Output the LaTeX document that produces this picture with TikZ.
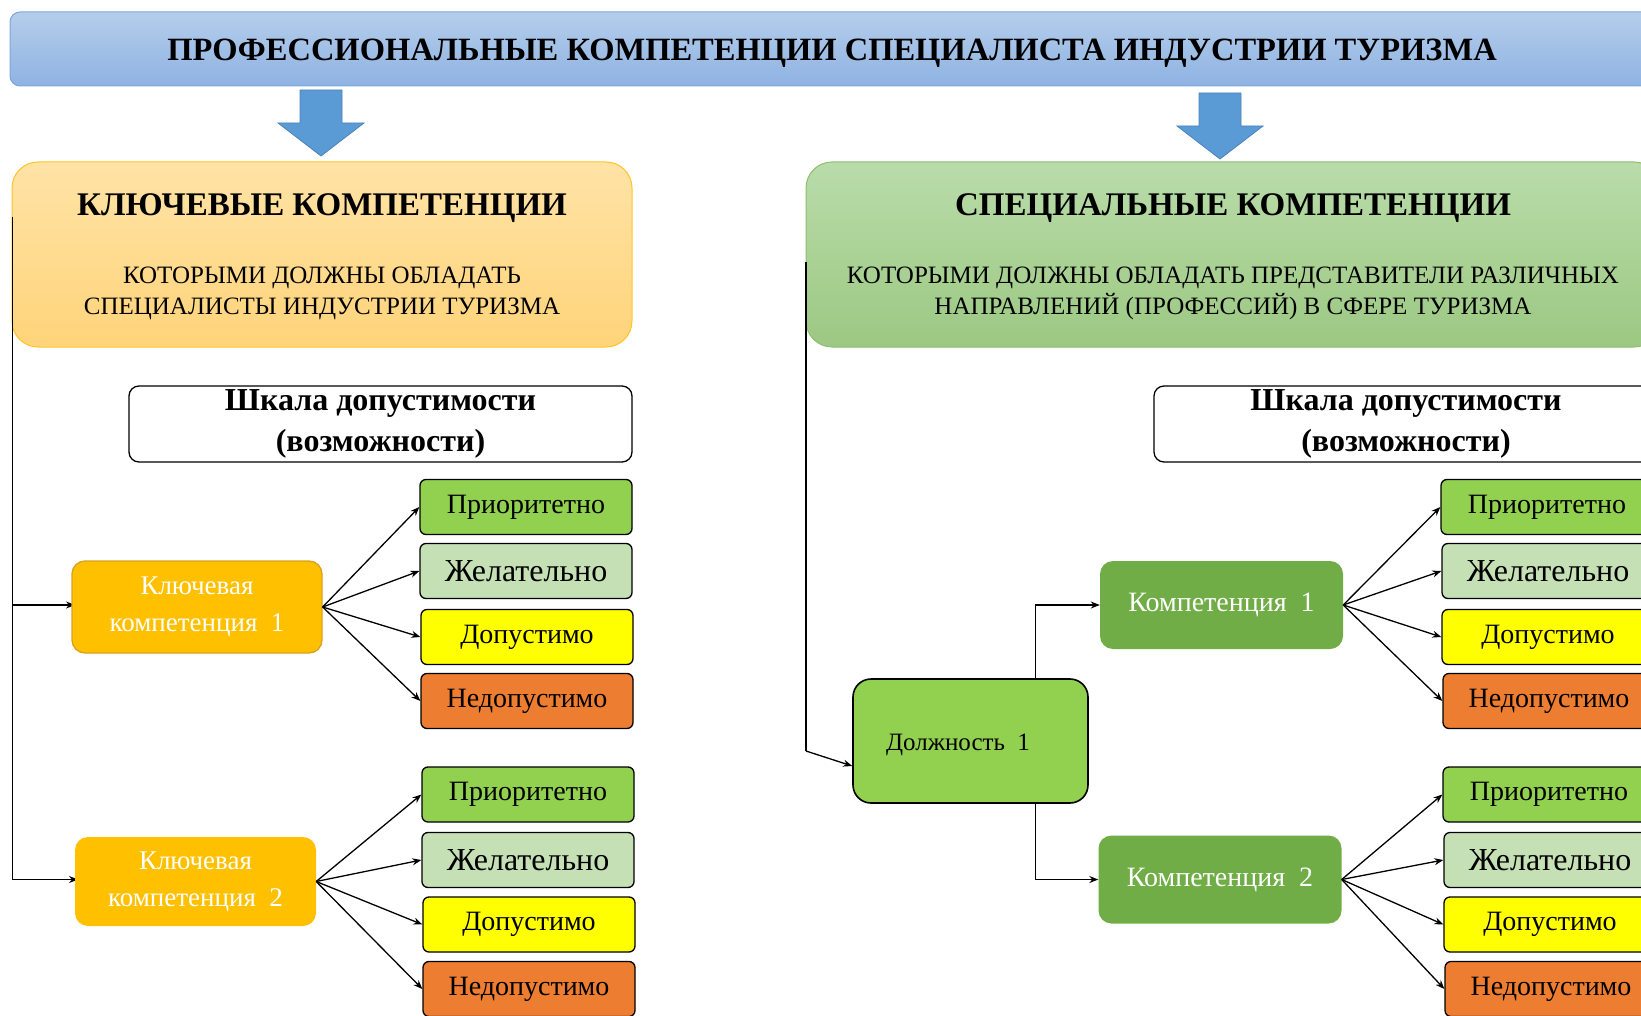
\documentclass[tikz,border=0pt]{standalone}
\usepackage{fontspec}
\setmainfont{Liberation Serif}
\usetikzlibrary{arrows.meta}

\definecolor{BannerTop}{HTML}{B5CDEB}
\definecolor{BannerBot}{HTML}{8EB3E2}
\definecolor{BannerLine}{HTML}{7EA6DA}
\definecolor{ArrowBlue}{HTML}{5B9BD5}
\definecolor{ArrowLine}{HTML}{4A84BC}
\definecolor{KeyTop}{HTML}{FFE3A6}
\definecolor{KeyBot}{HTML}{FFD47A}
\definecolor{KeyLine}{HTML}{FFC423}
\definecolor{SpecTop}{HTML}{B9DCAA}
\definecolor{SpecBot}{HTML}{9CC882}
\definecolor{SpecLine}{HTML}{8DBF72}
\definecolor{Prio}{HTML}{92D050}
\definecolor{Wish}{HTML}{C5E0B4}
\definecolor{Allow}{HTML}{FFFF00}
\definecolor{Deny}{HTML}{ED7D31}
\definecolor{KeyComp}{HTML}{FFC000}
\definecolor{KeyCompLine}{HTML}{D9A21B}
\definecolor{Post}{HTML}{92D050}
\definecolor{Comp}{HTML}{70AD47}

\tikzset{
  banner/.style={draw=BannerLine, line width=1pt, top color=BannerTop, bottom color=BannerBot,
    rounded corners=10pt, minimum width=1650pt, minimum height=74pt, inner sep=0pt},
  bannertext/.style={font=\fontsize{32.5}{38}\selectfont\bfseries},
  bigbox/.style={line width=1pt, rounded corners=26pt, minimum height=185pt, inner sep=0pt},
  boxtitle/.style={font=\fontsize{33}{38}\selectfont\bfseries},
  boxsub/.style={align=center, font=\fontsize{25}{31}\selectfont},
  scalehead/.style={draw=black, line width=1.3pt, fill=white, rounded corners=10pt, minimum height=76pt,
    inner sep=0pt, align=center, font=\fontsize{32}{41}\selectfont\bfseries},
  level/.style={draw=black, line width=1.3pt, rounded corners=6pt, minimum width=212pt,
    minimum height=55pt, inner sep=0pt, font=\fontsize{28}{30}\selectfont},
  prio/.style={level, fill=Prio},
  wish/.style={level, fill=Wish, font=\fontsize{32}{34}\selectfont},
  allow/.style={level, fill=Allow},
  deny/.style={level, fill=Deny},
  keycomp/.style={fill=KeyComp, rounded corners=13pt, inner sep=0pt, align=center, text=white,
    font=\fontsize{27}{37}\selectfont},
  comp/.style={fill=Comp, rounded corners=13pt, minimum width=243pt, minimum height=88pt,
    inner sep=0pt, text=white, font=\fontsize{28}{30}\selectfont},
  arr/.style={-{Stealth[length=9pt,width=7pt]}, line width=1.3pt},
}

\begin{document}
\begin{tikzpicture}[x=1pt,y=-1pt]
\useasboundingbox (0,0) rectangle (1641,1016);
\clip (0,0) rectangle (1641,1016);

 %%%%%%%%%% Banner %%%%%%%%%%
 \node[banner] (top) at (835,49) {};
 \node[bannertext] (toptext) at (832,53) {ПРОФЕССИОНАЛЬНЫЕ КОМПЕТЕНЦИИ СПЕЦИАЛИСТА ИНДУСТРИИ ТУРИЗМА};

 %%%%%%%%%% Blue arrows %%%%%%%%%%
 \foreach \cx/\ty in {321/90, 1220/93}
   \filldraw [fill=ArrowBlue, draw=ArrowLine, line width=0.8pt]
     (\cx-21,\ty) -- (\cx+21,\ty) -- (\cx+21,\ty+33) -- (\cx+43,\ty+33) -- (\cx,\ty+66)
     -- (\cx-43,\ty+33) -- (\cx-21,\ty+33) -- cycle ;

 %%%%%%%%%% Left column %%%%%%%%%%
 \node[bigbox, draw=KeyLine, top color=KeyTop, bottom color=KeyBot, minimum width=620pt] (key) at (322,254.5) {};
 \node[boxtitle] (keytitle) at (322,208) {КЛЮЧЕВЫЕ КОМПЕТЕНЦИИ};
 \node[boxsub] (keysub) at (322,293) {КОТОРЫМИ ДОЛЖНЫ ОБЛАДАТЬ\\СПЕЦИАЛИСТЫ ИНДУСТРИИ ТУРИЗМА};

 \coordinate (ktop) at (12.5,217);
 \draw [arr] (ktop) |- (75,605) coordinate (kin1);
 \draw [arr] (ktop) |- (78,879.5) coordinate (kin2);

 \node[scalehead, minimum width=503pt] (keyscale) at (380.5,424) {Шкала допустимости\\(возможности)};

 \node[keycomp, draw=KeyCompLine, line width=1.3pt, minimum width=250pt, minimum height=92pt] (kc1) at (197,607) {Ключевая\\компетенция~~1};
 \node[keycomp, minimum width=241pt, minimum height=89pt] (kc2) at (195.5,881.5) {Ключевая\\компетенция~~2};

 \node[prio]  (kp1) at (526,507) {Приоритетно};
 \node[wish]  (kw1) at (526,571) {Желательно};
 \node[allow] (ka1) at (527,637) {Допустимо};
 \node[deny]  (kd1) at (527,701) {Недопустимо};

 \node[prio]  (kp2) at (528,794.5) {Приоритетно};
 \node[wish]  (kw2) at (528,860) {Желательно};
 \node[allow] (ka2) at (529,924.5) {Допустимо};
 \node[deny]  (kd2) at (529,989) {Недопустимо};

 \foreach \n in {kp1,kw1,ka1,kd1}
   \draw [arr] (kc1.east) -- (\n.west) ;
 \foreach \n in {kp2,kw2,ka2,kd2}
   \draw [arr] (kc2.east) -- (\n.west) ;

 %%%%%%%%%% Right column %%%%%%%%%%
 \node[bigbox, draw=SpecLine, top color=SpecTop, bottom color=SpecBot, minimum width=854pt] (spec) at (1233,254.5) {};
 \node[boxtitle] (spectitle) at (1233,208) {СПЕЦИАЛЬНЫЕ КОМПЕТЕНЦИИ};
 \node[boxsub] (specsub) at (1233,293) {КОТОРЫМИ ДОЛЖНЫ ОБЛАДАТЬ ПРЕДСТАВИТЕЛИ РАЗЛИЧНЫХ\\НАПРАВЛЕНИЙ (ПРОФЕССИЙ) В СФЕРЕ ТУРИЗМА};

 \coordinate (stop) at (806,262);
 \coordinate (sbend) at (806,751);

 \node[scalehead, minimum width=504pt] (specscale) at (1406,424) {Шкала допустимости\\(возможности)};

 \node[draw=black, line width=1.6pt, fill=Post, rounded corners=18pt, minimum width=235pt,
   minimum height=124pt] (post) at (970.5,741) {};
 \node[font=\fontsize{25}{28}\selectfont] (posttext) at (958,745) {Должность~~1};

 \node[comp] (c1) at (1221.5,605) {Компетенция~~1};
 \node[comp] (c2) at (1220,879.5) {Компетенция~~2};

 \draw [line width=1.3pt] (stop) -- (sbend) ;
 \draw [arr] (sbend) -- ([yshift=-25pt]post.west) ;
 \draw [arr] ([xshift=65pt]post.north) |- (c1.west) ;
 \draw [arr] ([xshift=65pt]post.south) |- (c2.west) ;

 \node[prio]  (sp1) at (1547,507) {Приоритетно};
 \node[wish]  (sw1) at (1548,571) {Желательно};
 \node[allow] (sa1) at (1548,637) {Допустимо};
 \node[deny]  (sd1) at (1549,701) {Недопустимо};

 \node[prio]  (sp2) at (1549,794.5) {Приоритетно};
 \node[wish]  (sw2) at (1550,860) {Желательно};
 \node[allow] (sa2) at (1550,924.5) {Допустимо};
 \node[deny]  (sd2) at (1551,989) {Недопустимо};

 \foreach \n in {sp1,sw1,sa1,sd1}
   \draw [arr] (c1.east) -- (\n.west) ;
 \foreach \n in {sp2,sw2,sa2,sd2}
   \draw [arr] (c2.east) -- (\n.west) ;

\end{tikzpicture}
\end{document}
